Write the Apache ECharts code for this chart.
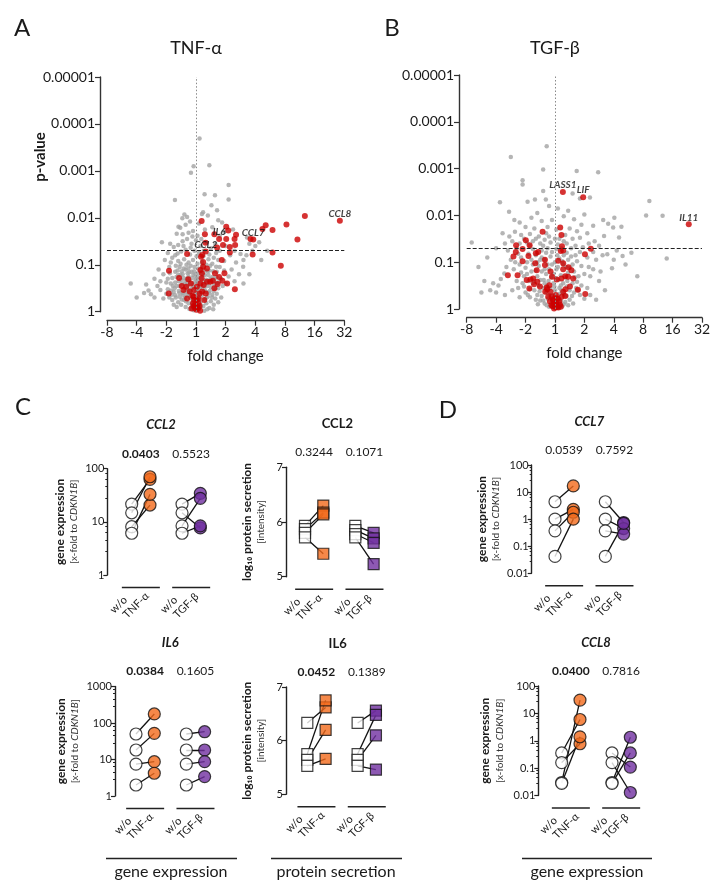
<!DOCTYPE html>
<html><head><meta charset="utf-8">
<script src="https://cdn.jsdelivr.net/npm/echarts@6/dist/echarts.min.js"></script>
<style>html,body{margin:0;padding:0;background:#fff}#c{width:722px;height:891px}</style>
</head><body><div id="c"></div>
<script>
// ---------------- DATA ----------------
// Volcano plots: [log2 fold change (signed), -log10 p-value]
const FOLD_TICKS = [-3, -2, -1, 0, 1, 2, 3, 4, 5];
const P_TICKS = [0, 1, 2, 3, 4, 5];
const P_THRESHOLD = 0.05;

const TNF_GREY = [
[0.12,3.69],[0.45,3.12],[-0.08,3.10],[-0.17,2.96],[1.10,2.70],[-0.71,2.38],[0.29,2.50],[0.64,2.48],[1.10,2.39],[0.52,2.27],[0.71,2.16],[0.24,2.12],[0.20,2.08],[-0.39,2.07],[-0.30,2.02],[-0.46,1.99],[-0.59,1.81],[-0.53,1.79],[0.40,2.05],[0.75,1.95],[0.88,1.90],[-0.20,1.92],[-0.35,1.85],[0.10,1.88],[0.30,1.75],[0.55,1.80],[-0.10,1.72],[-0.25,1.68],[0.05,1.62],[-0.45,1.65],[0.95,1.70],[1.25,1.75],[0.80,1.62],[-0.65,1.66],
[-1.15,1.48],[-0.87,1.45],[2.13,1.48],[1.72,1.58],[1.50,1.23],[1.30,1.30],[-0.75,1.38],[-0.60,1.42],[-0.45,1.50],[-0.30,1.55],[-0.15,1.45],[0.00,1.52],[0.15,1.40],[0.35,1.48],[0.50,1.35],[0.65,1.45],[0.80,1.30],[1.00,1.40],[1.15,1.20],[-0.95,1.25],[-0.70,1.20],[-0.50,1.28],[-0.35,1.32],[-0.20,1.22],[-0.05,1.30],[0.10,1.25],[0.25,1.18],[0.45,1.22],[0.60,1.15],[0.75,1.10],[0.95,1.08],[1.35,1.05],[1.60,1.10],[-1.05,1.10],[-0.85,1.05],[-0.60,1.08],[-0.40,1.12],[-0.25,1.05],[-0.10,1.10],[0.05,1.02],[0.20,1.06],[0.35,1.00],[0.55,1.02],[1.90,1.30],[2.00,1.40],[1.80,1.45],
[-1.26,0.90],[-1.68,0.58],[-1.52,0.37],[-1.20,0.46],[1.59,0.96],[1.45,0.80],[1.30,0.65],[1.20,0.90],[1.10,0.75],[-1.40,0.70],[-1.10,0.80],[-1.00,0.62],[-0.90,0.95],[-0.80,0.72],[-0.70,0.85],[-0.65,0.55],[-0.55,0.95],[-0.50,0.68],[-0.45,0.80],[-0.40,0.50],[-0.35,0.90],[-0.30,0.62],[-0.25,0.75],[-0.20,0.45],[-0.15,0.85],[-0.10,0.58],[-0.05,0.95],[0.00,0.70],[0.05,0.48],[0.10,0.82],[0.15,0.62],[0.20,0.92],[0.25,0.55],[0.30,0.78],[0.35,0.42],[0.40,0.66],[0.45,0.88],[0.50,0.52],[0.55,0.74],[0.60,0.44],[0.65,0.62],[0.70,0.85],[0.75,0.50],[0.85,0.70],[0.90,0.55],[1.00,0.60],[-0.95,0.48],[-0.75,0.42],[-0.60,0.78],[-0.85,0.60],[-1.30,0.55],[-1.60,0.45],[0.95,0.88],[0.80,0.95],
[-1.00,0.38],[-0.90,0.30],[-0.80,0.25],[-0.70,0.35],[-0.60,0.20],[-0.55,0.32],[-0.50,0.15],[-0.45,0.40],[-0.40,0.25],[-0.35,0.10],[-0.30,0.35],[-0.25,0.18],[-0.20,0.30],[-0.15,0.08],[-0.10,0.22],[-0.05,0.38],[0.00,0.12],[0.05,0.28],[0.10,0.05],[0.15,0.20],[0.20,0.35],[0.25,0.12],[0.30,0.26],[0.35,0.18],[0.40,0.32],[0.45,0.08],[0.50,0.22],[0.55,0.36],[0.60,0.15],[0.65,0.28],[0.70,0.38],[0.75,0.20],[-0.65,0.10],[-0.35,0.42],[-0.15,0.28],[0.12,0.40],[0.28,0.02],[-0.08,0.03],[0.02,0.20],[0.38,0.05],[-0.22,0.06],[-0.48,0.26],[-0.75,0.15],[0.85,0.30],[-1.10,0.28],[0.58,0.05],[-0.28,0.48],[0.08,0.55],[-0.55,0.55],
[-0.70,0.62],[-0.62,0.88],[-0.52,1.02],[-0.42,0.72],[-0.38,0.58],[-0.32,1.00],[-0.28,0.82],[-0.22,0.66],[-0.18,0.98],[-0.12,0.72],[-0.08,0.52],[-0.02,0.80],[0.03,0.62],[0.08,0.92],[0.13,0.50],[0.18,0.72],[0.22,1.00],[0.27,0.66],[0.32,0.88],[0.38,0.55],[0.42,0.78],[0.48,0.98],[0.53,0.64],[0.58,0.86],[0.63,0.70],[0.68,0.96],[-0.88,0.82],[-0.78,0.55],[-0.68,0.98],[-0.58,0.65],[-0.48,0.86],[-0.36,0.66],[-0.26,0.92],[-0.16,0.60],[-0.06,0.86],[0.04,0.74],[0.14,0.86],[0.24,0.78],[0.34,0.68],[0.44,0.60],[-0.44,0.36],[-0.34,0.22],[-0.24,0.40],[-0.14,0.16],[-0.04,0.26],[0.06,0.36],[0.16,0.10],[0.26,0.44],[0.36,0.30],[0.46,0.44],[-0.58,0.44],[-0.68,0.30],[-0.84,0.45],[0.66,0.50],[0.72,0.60],
[-0.95,0.70],[-0.82,0.36],[-0.72,0.50],[-0.66,0.74],[-0.56,0.40],[-0.52,0.78],[-0.46,0.60],[-0.41,0.92],[-0.37,0.30],[-0.31,0.70],[-0.27,0.56],[-0.23,0.84],[-0.19,0.38],[-0.13,0.50],[-0.09,0.78],[-0.03,0.64],[0.01,0.44],[0.07,0.68],[0.11,0.30],[0.17,0.54],[0.21,0.82],[0.29,0.48],[0.33,0.60],[0.39,0.86],[0.43,0.40],[0.49,0.70],[0.54,0.30],[0.61,0.58],[0.69,0.74],[0.78,0.64],[-0.62,1.24],[-0.42,1.40],[-0.18,1.36],[0.02,1.18],[0.26,1.30],[0.42,1.12],[0.68,1.25],[-0.80,1.15],[-0.12,1.60],[0.18,1.55],[-1.40,0.30],[-1.20,0.65],[-1.75,0.40],[-2.20,0.60],[-2.00,0.30],[1.60,0.60],[1.80,0.80],[1.70,1.20],[2.20,1.10],[2.40,1.30]
];
const TNF_RED = [
[3.67,2.04],[3.05,1.86],[2.58,1.74],[2.35,1.84],[2.24,1.76],[3.42,1.54],[2.58,1.26],[1.91,1.22],[2.86,0.98],[1.84,1.55],[1.02,1.81],[1.09,1.73],[1.35,1.64],[1.30,1.55],[1.02,1.55],[0.62,1.65],[0.30,1.65],[0.19,1.93],[0.91,1.42],[1.14,1.38],[1.32,1.42],[0.71,1.37],[1.14,1.26],[0.32,1.47],[-0.30,1.23],[0.21,1.21],[0.87,1.10],[0.96,0.82],[-0.91,0.87],[-0.92,0.39],[1.31,0.48],
[0.24,0.96],[0.15,0.89],[0.20,0.82],[0.37,0.92],[0.64,0.82],[0.78,0.74],[0.57,0.66],[0.89,0.66],[0.62,0.50],[0.73,0.59],[0.48,0.64],[-0.57,0.72],[-0.48,0.55],[-0.33,0.53],[-0.26,0.69],[-0.17,0.60],[-0.21,0.43],[-0.08,0.32],[0.03,0.25],[-0.02,0.14],[0.01,0.04],[0.06,0.07],[-0.10,0.18],[-0.12,0.34],[0.12,0.39],[0.21,0.43],[0.26,0.57],[0.15,0.60],[0.19,0.71],[0.33,0.39],[-0.06,0.46],[0.24,1.06],[0.17,1.17],[0.09,0.28],[0.12,0.12],[-0.06,0.25],[-0.15,0.07],[-0.30,0.28],[-0.42,0.46],[0.03,0.53],[0.28,0.25],[0.37,0.64],[1.05,0.60],
[0.05,0.10],[-0.04,0.08],[0.08,0.18],[-0.08,0.12],[0.14,0.02]
];
const TNF_GENES = [['CCL8',4.85,1.94],['CCL7',1.93,1.54],['IL6',0.78,1.55],['CCL2',0.33,1.28]];

const TGF_GREY = [
[-0.28,3.48],[-1.50,3.25],[-0.40,2.98],[0.74,2.95],[1.47,2.92],[-1.10,2.75],[-1.10,2.66],[-0.40,2.52],[-0.31,2.34],[0.60,2.47],[0.85,2.36],[1.19,2.38],[-1.87,2.28],[-0.93,2.29],[-0.68,2.34],[3.21,2.31],[3.10,2.00],[3.66,1.99],[-1.56,2.08],[-1.38,1.90],[1.64,1.90],[2.02,1.95],[1.81,1.82],[1.98,1.74],[2.26,1.76],[-1.78,1.62],[-1.36,1.65],[-2.83,1.42],[1.67,1.56],[2.18,1.53],[1.62,1.15],[1.78,1.17],[2.30,1.13],[3.80,1.08],[1.94,0.87],[-2.10,0.55],[-1.92,0.50],[-1.84,0.64],[-1.72,0.76],
[-0.20,2.20],[0.10,2.15],[0.45,2.10],[-0.60,2.05],[-0.80,1.95],[0.30,1.98],[0.65,1.92],[1.00,2.02],[-1.20,1.85],[-0.45,1.88],[-0.10,1.90],[0.90,1.80],[1.30,1.78],[-1.00,1.75],[-0.70,1.72],[-0.25,1.75],[0.05,1.70],[0.50,1.72],[0.75,1.66],[1.10,1.62],[-1.55,1.55],[-1.15,1.58],[-0.85,1.60],[-0.55,1.55],[-0.30,1.62],[0.35,1.58],[0.60,1.50],[0.85,1.52],[1.35,1.45],[1.50,1.35],
[-1.70,1.40],[-1.45,1.45],[-1.20,1.40],[-0.95,1.42],[-0.75,1.45],[-0.50,1.40],[-0.35,1.48],[-0.15,1.42],[0.00,1.50],[0.10,1.38],[0.40,1.40],[0.55,1.30],[0.70,1.35],[0.95,1.32],[1.15,1.40],[1.30,1.22],[-1.60,1.25],[-1.25,1.18],[-0.75,1.28],[-0.45,1.25],[-0.25,1.30],[-0.10,1.22],[0.05,1.28],[0.40,1.20],[0.70,1.15],[0.85,1.22],[1.10,1.10],[1.40,1.05],[-1.50,1.05],[-1.20,0.95],[-1.00,0.88],[-0.80,1.05],[-0.55,0.92],[-0.45,1.10],[-0.25,0.95],[-0.15,1.12],[0.00,1.00],[0.15,1.08],[0.45,1.05],[0.60,0.95],[0.75,1.02],[0.90,0.92],[1.15,0.90],[1.30,0.85],[-1.65,0.90],[-1.40,0.85],[-1.05,0.70],[-0.80,0.80],[-0.60,0.70],[-0.45,0.80],[-0.38,0.62],[-0.20,0.85],[-0.05,0.75],[0.10,0.90],[0.20,0.72],[0.45,0.78],[0.65,0.80],[0.80,0.70],[1.00,0.75],[1.20,0.70],[-1.30,0.60],[-1.10,0.55],[-0.90,0.60],[-0.70,0.40],[-0.55,0.50],[-0.40,0.45],[-0.22,0.60],[-0.05,0.55],[0.12,0.62],[0.28,0.55],[0.42,0.60],[0.60,0.55],[0.75,0.58],[0.90,0.50],[1.10,0.45],[-1.45,0.40],[-1.00,0.35],[-0.85,0.42],[-0.60,0.30],[-0.45,0.28],[-0.30,0.35],[-0.15,0.45],[0.00,0.40],[0.15,0.45],[0.30,0.32],[0.50,0.40],[0.65,0.35],[0.85,0.30],[1.00,0.22],[-2.40,0.60],[-2.20,0.40],[-2.00,0.35],[-1.70,0.30],
[-0.50,0.18],[-0.35,0.12],[-0.25,0.22],[-0.10,0.15],[0.05,0.10],[0.20,0.18],[0.35,0.15],[0.50,0.20],[-0.20,0.05],[0.10,0.02],[0.25,0.06],[-0.05,0.30],[0.40,0.28],[-0.65,0.20],[0.62,0.12],
[-0.90,1.18],[-0.65,1.15],[-0.35,1.05],[-0.30,0.75],[-0.12,0.68],[0.05,0.85],[0.28,0.95],[0.30,1.15],[0.22,1.30],[-0.60,1.00],[-0.95,1.00],[-1.15,0.78],[-0.70,0.60],[0.52,0.88],[0.35,0.68],[-0.50,0.62],[-0.28,0.50],[0.05,0.65],[0.20,0.50],[-0.85,0.25],[-1.20,0.25],[0.80,0.40],[1.20,0.30],[1.50,0.60],[1.55,0.80],[2.10,1.25],[2.60,1.20],[2.00,1.05],
[-1.30,1.30],[-1.05,1.50],[-0.85,1.35],[-0.65,1.50],[-0.40,1.35],[-0.20,1.55],[0.15,1.50],[0.30,1.45],[-1.35,1.00],[-1.15,1.10],[-0.95,0.75],[-0.75,0.95],[-0.65,0.82],[-0.50,1.05],[-0.35,0.85],[-0.30,1.20],[-0.10,0.95],[0.08,1.15],[0.25,1.02],[0.38,0.90],[0.55,1.12],[0.68,0.68],[-1.25,0.45],[-1.05,0.48],[-0.92,0.30],[-0.75,0.55],[-0.52,0.38],[-0.35,0.55],[-0.18,0.30],[-0.02,0.48],[0.22,0.40],[0.40,0.48],[0.58,0.28],[0.72,0.45],[-0.40,0.18],[-0.28,0.08],[0.30,0.10],[0.45,0.08],[-0.58,0.10],[0.15,0.32],[-2.60,0.90],[-2.30,1.10],[-2.00,1.30],[-2.50,0.35],[2.40,0.95],[2.80,0.70],[1.70,0.40],[1.40,0.20]
];
const TGF_RED = [
[0.18,1.74],[0.22,1.58],[-0.42,1.65],[-0.99,1.47],[-1.32,1.36],[-0.86,1.36],[-1.10,1.28],[-1.33,1.22],[-1.41,1.12],[-0.90,1.13],[-1.10,1.02],[-0.57,1.22],[-0.65,1.19],[0.24,1.34],[0.28,1.25],[1.22,1.29],[1.02,1.17],[-0.67,0.98],[-0.34,1.05],[-1.60,0.72],[-1.27,0.72],
[-0.96,0.62],[-0.83,0.63],[-0.87,0.44],[-0.71,0.53],[-0.60,0.58],[-0.51,0.48],[-0.74,0.65],
[0.28,0.85],[0.46,0.89],[0.56,0.83],[0.35,0.70],[0.22,0.65],[0.45,0.69],[0.62,0.65],[0.51,0.48],[0.36,0.42],[0.35,0.28],[0.78,0.41],[1.03,0.32],
[-0.15,0.80],[-0.10,0.69],[0.06,0.63],[-0.19,0.51],[-0.26,0.42],[-0.33,0.37],[-0.15,0.37],[-0.28,0.46],
[-0.11,0.26],[-0.06,0.19],[0.06,0.23],[0.00,0.12],[-0.08,0.06],[0.08,0.05],[0.15,0.16],[-0.17,0.16],[-0.03,0.01],[0.17,0.09],[0.03,0.30],[0.23,0.26],[-0.23,0.26],[0.28,0.37],
[0.11,1.03],[0.28,0.98],[0.20,1.24],[-0.62,0.83],[-0.34,0.94],
[-0.04,0.10],[0.04,0.14],[-0.12,0.08],[0.12,0.03],[0.02,0.04],[-0.07,0.21],[0.10,0.22],[0.20,0.05]
];
const TGF_GENES = [['LASS1',0.27,2.50],['LIF',0.96,2.39],['IL11',4.55,1.81]];

// Paired plots: sample values (control -> treated)
const GROUP_LABELS = [['w/o','TNF-\u03b1'],['w/o','TGF-\u03b2']];
const CCL2_GENE_CTRL_TNF = [21.6, 14.8, 8.1, 6.1];
const CCL2_GENE_TNF      = [63, 70.6, 20.7, 32.9];
const CCL2_GENE_CTRL_TGF = [21.6, 14.8, 8.4, 6.1];
const CCL2_GENE_TGF      = [34.4, 7.7, 27.7, 8.4];
const CCL2_PROT_CTRL_TNF = [5.93, 5.87, 5.80, 5.72];
const CCL2_PROT_TNF      = [6.30, 6.17, 6.14, 5.42];
const CCL2_PROT_CTRL_TGF = [5.93, 5.85, 5.78, 5.72];
const CCL2_PROT_TGF      = [5.80, 5.70, 5.62, 5.23];
const IL6_GENE_CTRL_TNF = [50, 18.2, 7.5, 2.0];
const IL6_GENE_TNF      = [177, 52, 8.7, 4.2];
const IL6_GENE_CTRL_TGF = [50, 18.2, 7.5, 2.0];
const IL6_GENE_TGF      = [57.7, 18.2, 8.7, 3.4];
const IL6_PROT_CTRL_TNF = [6.33, 5.75, 5.64, 5.53];
const IL6_PROT_TNF      = [6.62, 6.75, 6.20, 5.66];
const IL6_PROT_CTRL_TGF = [6.33, 5.75, 5.64, 5.53];
const IL6_PROT_TGF      = [6.56, 6.48, 6.10, 5.46];
const CCL7_GENE_CTRL_TNF = [4.4, 1.0, 0.37, 0.042];
const CCL7_GENE_TNF      = [16.9, 2.3, 1.8, 1.0];
const CCL7_GENE_CTRL_TGF = [4.4, 1.0, 0.37, 0.042];
const CCL7_GENE_TGF      = [0.75, 0.45, 0.28, 0.7];
const CCL8_GENE_CTRL_TNF = [0.36, 0.16, 0.03, 0.028];
const CCL8_GENE_TNF      = [6.0, 0.78, 30.6, 1.4];
const CCL8_GENE_CTRL_TGF = [0.36, 0.16, 0.03, 0.028];
const CCL8_GENE_TGF      = [0.11, 0.013, 1.35, 0.36];
const P_VALUES = {ccl2g:['0.0403','0.5523'], ccl2p:['0.3244','0.1071'], il6g:['0.0384','0.1605'], il6p:['0.0452','0.1389'], ccl7g:['0.0539','0.7592'], ccl8g:['0.0400','0.7816']};
const P_SIG = {ccl2g:[true,false], ccl2p:[false,false], il6g:[true,false], il6p:[true,false], ccl7g:[false,false], ccl8g:[true,false]};

// ---------------- LAYOUT ----------------
const FONT = 'Lato, "Open Sans", "DejaVu Sans", sans-serif';
const INK = '#1a1a1a';
const ORANGE = '#f26a1b', PURPLE = '#7030a0', GREYPT = '#a3a3a3', RED = '#cc0000';
const POS = [0, 1, 2.75, 3.75];
const U = 18.3;

const grids = [], xAxes = [], yAxes = [], series = [], graphics = [];

function txt(x, y, text, o) {
  o = o || {};
  graphics.push({type:'text', x:x, y:y, rotation:o.rot||0, silent:true, z:100,
    style:{text:text, fontSize:o.size||12, fontFamily:FONT, fontWeight:o.bold?'bold':'normal',
      fontStyle:o.italic?'italic':'normal', fill:o.color||INK, align:o.align||'center',
      verticalAlign:o.va||'middle', rich:o.rich}});
}
function hline(x1, x2, y, w) {
  graphics.push({type:'line', silent:true, shape:{x1:x1, y1:y, x2:x2, y2:y}, style:{stroke:'#222', lineWidth:w||1.5}});
}

const foldLabel = v => v === 0 ? '1' : (v > 0 ? String(Math.pow(2, v)) : '-' + Math.pow(2, -v));
const pLabel = v => v === 0 ? '1' : Math.pow(10, -v).toFixed(v);

function volcano(g, grey, red, genes, title, showName) {
  const gi = grids.length;
  grids.push({left:g.left, top:g.top, width:g.width, height:g.height});
  const axLine = {onZero:false, lineStyle:{color:'#333', width:1.4}};
  xAxes.push({gridIndex:gi, type:'value', min:FOLD_TICKS[0], max:FOLD_TICKS[FOLD_TICKS.length-1], interval:1,
    offset:g.xOff, axisLine:axLine, axisTick:{length:5, lineStyle:{color:'#333', width:1.2}},
    splitLine:{show:false}, axisLabel:{fontSize:14, color:INK, fontFamily:FONT, margin:5, formatter:foldLabel},
    name:'fold change', nameLocation:'middle', nameGap:28, nameTextStyle:{fontSize:15, color:INK, fontFamily:FONT}});
  yAxes.push({gridIndex:gi, type:'value', min:P_TICKS[0], max:P_TICKS[P_TICKS.length-1], interval:1,
    offset:g.yOff, axisLine:axLine, axisTick:{length:5, lineStyle:{color:'#333', width:1.2}},
    splitLine:{show:false}, axisLabel:{fontSize:14, color:INK, fontFamily:FONT, margin:5, formatter:pLabel}});
  if (showName) txt(40, 157, 'p-value', {size:15, bold:true, rot:Math.PI/2});
  const thr = -Math.log10(P_THRESHOLD);
  series.push({type:'scatter', xAxisIndex:gi, yAxisIndex:gi, data:grey, symbolSize:4.5, z:2,
    itemStyle:{color:GREYPT}, silent:true,
    markLine:{silent:true, symbol:'none', animation:false, label:{show:false},
      data:[{yAxis:thr, lineStyle:{type:'dashed', color:'#222', width:1}},
            {xAxis:0, lineStyle:{type:[1.5,2], color:'#8a8a8a', width:1}}]}});
  series.push({type:'scatter', xAxisIndex:gi, yAxisIndex:gi, data:red, symbolSize:6, z:3,
    itemStyle:{color:RED}, silent:true});
  series.push({type:'scatter', xAxisIndex:gi, yAxisIndex:gi, symbolSize:6, z:4, itemStyle:{color:RED}, silent:true,
    data:genes.map(d => ({name:d[0], value:[d[1], d[2]]})),
    label:{show:true, position:'top', distance:-1, formatter:'{b}', fontSize:10, fontWeight:'bold',
      fontStyle:'italic', color:'#111', fontFamily:FONT}});
  txt(g.left + g.width * 3/8, 48, title, {size:18});
}

volcano({left:107, top:77, width:237.3, height:234.7, xOff:9, yOff:7}, TNF_GREY, TNF_RED, TNF_GENES, 'TNF-\u03b1', true);
volcano({left:466.7, top:75, width:235.3, height:234, xOff:8.7, yOff:7.7}, TGF_GREY, TGF_RED, TGF_GENES, 'TGF-\u03b2', false);

const logFmt = v => String(parseFloat(Number(v).toPrecision(3)));

function paired(p, title, titleItalic, yName, ctrl1, trt1, ctrl2, trt2, shape) {
  const gi = grids.length;
  const W = 140;
  const xmin = -(p.first - p.axisX) / U;
  grids.push({left:p.axisX, top:p.top, width:W, height:p.bottom - p.top});
  xAxes.push({gridIndex:gi, type:'value', min:xmin, max:xmin + W / U, show:false, axisLine:{onZero:false}});
  const y = {gridIndex:gi, min:p.min, max:p.max,
    axisLine:{show:true, onZero:false, lineStyle:{color:'#222', width:1.4}},
    axisTick:{show:true, length:4, lineStyle:{color:'#222', width:1.2}},
    splitLine:{show:false},
    axisLabel:{fontSize:11, color:INK, fontFamily:FONT, margin:3},
    name:yName, nameLocation:'middle', nameRotate:90, nameGap:p.nameGap,
    nameTextStyle:{color:INK, fontFamily:FONT, lineHeight:14, rich:{
      a:{fontSize:12, fontWeight:'bold', fontFamily:FONT, color:INK, lineHeight:14},
      b:{fontSize:10, fontFamily:FONT, color:'#333', lineHeight:14},
      c:{fontSize:10, fontStyle:'italic', fontFamily:FONT, color:'#333', lineHeight:14}}}};
  if (p.log) {
    Object.assign(y, {type:'log', logBase:10, axisLabel:Object.assign(y.axisLabel, {formatter:logFmt}),
      minorTick:{show:true, splitNumber:5, length:2, lineStyle:{color:'#222', width:1}}});
  } else {
    Object.assign(y, {type:'value', interval:1});
  }
  yAxes.push(y);
  const lines = [];
  const groups = [[ctrl1, trt1, 0], [ctrl2, trt2, 2]];
  groups.forEach(([c, t, k]) => c.forEach((v, i) => lines.push({coords:[[POS[k], v], [POS[k+1], t[i]]]})));
  series.push({type:'lines', coordinateSystem:'cartesian2d', xAxisIndex:gi, yAxisIndex:gi, data:lines, z:2,
    silent:true, lineStyle:{color:'#111', width:1.3, opacity:1}});
  const sym = shape === 'square' ? 'rect' : 'circle';
  const mk = (vals, k) => vals.map(v => [POS[k], v]);
  const base = {type:'scatter', xAxisIndex:gi, yAxisIndex:gi, symbol:sym, symbolSize:shape==='square'?11:12, z:3, silent:true};
  series.push(Object.assign({}, base, {data:mk(ctrl1, 0).concat(mk(ctrl2, 2)), itemStyle:{color:'#fff', borderColor:'#111', borderWidth:1.2}}));
  series.push(Object.assign({}, base, {data:mk(trt1, 1), itemStyle:{color:ORANGE, borderColor:'#111', borderWidth:1.2}}));
  series.push(Object.assign({}, base, {data:mk(trt2, 3), itemStyle:{color:PURPLE, borderColor:'#111', borderWidth:1.2}}));
  const px = v => p.first + v * U;
  const c1 = px((POS[0] + POS[1]) / 2), c2 = px((POS[2] + POS[3]) / 2);
  const sepY = p.bottom + 12.5;
  [c1, c2].forEach((cx, gidx) => {
    hline(cx - 19, cx + 19, sepY, 1.5);
    txt(cx - 29, sepY + 24, GROUP_LABELS[gidx][0], {size:11, align:'left', rot:Math.PI/4});
    txt(cx - 16, sepY + 29, GROUP_LABELS[gidx][1], {size:11, align:'left', rot:Math.PI/4});
    txt(cx, p.top - 15, P_VALUES[p.id][gidx], {size:12, bold:P_SIG[p.id][gidx]});
  });
  txt((c1 + c2) / 2 + (p.titleShift || 0), p.top - 43.5, title, {size:13, bold:true, italic:titleItalic});
}

const GENE_NAME = '{a|gene expression}\n{b|[x-fold to }{c|CDKN1B}{b|]}';
const PROT_NAME = '{a|log\u2081\u2080 protein secretion}\n{b|[intensity]}';

paired({id:'ccl2g', axisX:107.3, top:468.7, bottom:575, first:131.7, log:true, min:1, max:100, nameGap:20, titleShift:-5}, 'CCL2', true, GENE_NAME,
  CCL2_GENE_CTRL_TNF, CCL2_GENE_TNF, CCL2_GENE_CTRL_TGF, CCL2_GENE_TGF, 'circle');
paired({id:'ccl2p', axisX:286, top:467.3, bottom:576.7, first:305, log:false, min:5, max:7, nameGap:18, titleShift:-2}, 'CCL2', false, PROT_NAME,
  CCL2_PROT_CTRL_TNF, CCL2_PROT_TNF, CCL2_PROT_CTRL_TGF, CCL2_PROT_TGF, 'square');
paired({id:'il6g', axisX:115, top:686.5, bottom:796, first:136, log:true, min:1, max:1000, nameGap:33}, 'IL6', true, GENE_NAME,
  IL6_GENE_CTRL_TNF, IL6_GENE_TNF, IL6_GENE_CTRL_TGF, IL6_GENE_TGF, 'circle');
paired({id:'il6p', axisX:286, top:687, bottom:794.3, first:307.3, log:false, min:5, max:7, nameGap:18, titleShift:-4}, 'IL6', false, PROT_NAME,
  IL6_PROT_CTRL_TNF, IL6_PROT_TNF, IL6_PROT_CTRL_TGF, IL6_PROT_TGF, 'square');
paired({id:'ccl7g', axisX:531.7, top:465, bottom:573.3, first:555, log:true, min:0.01, max:100, nameGap:29}, 'CCL7', true, GENE_NAME,
  CCL7_GENE_CTRL_TNF, CCL7_GENE_TNF, CCL7_GENE_CTRL_TGF, CCL7_GENE_TGF, 'circle');
paired({id:'ccl8g', axisX:538.3, top:686, bottom:795.6, first:561.7, log:true, min:0.01, max:100, nameGap:32}, 'CCL8', true, GENE_NAME,
  CCL8_GENE_CTRL_TNF, CCL8_GENE_TNF, CCL8_GENE_CTRL_TGF, CCL8_GENE_TGF, 'circle');

txt(22, 28, 'A', {size:24});
txt(392, 28, 'B', {size:24});
txt(23, 407, 'C', {size:24});
txt(448, 410, 'D', {size:24});
hline(106, 237, 858.5, 1.5); txt(171, 872, 'gene expression', {size:16});
hline(271, 402, 858.5, 1.5); txt(336, 872, 'protein secretion', {size:16});
hline(522, 652, 858.5, 1.5); txt(587, 872, 'gene expression', {size:16});

const chart = echarts.init(document.getElementById('c'), null, {renderer:'canvas'});
chart.setOption({
  animation:false,
  backgroundColor:'#fff',
  grid:grids.map(g => Object.assign({outerBoundsMode:'none', containLabel:false}, g)),
  xAxis:xAxes, yAxis:yAxes, series:series, graphic:graphics
});
</script></body></html>
